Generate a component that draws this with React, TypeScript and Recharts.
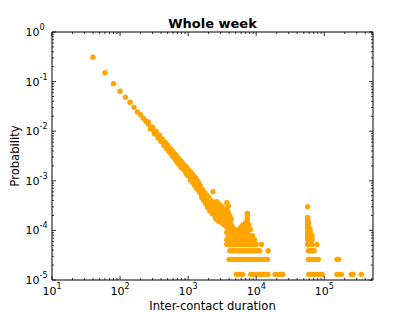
import React from 'react';
import { ScatterChart, Scatter, XAxis, YAxis } from 'recharts';

// ---- data (inter-contact duration in s, probability) ----
const headX = [40, 60, 80, 100, 120, 140, 160, 180, 200, 220];
const headY = [0.31, 0.151, 0.091, 0.064, 0.0482, 0.0383, 0.0303, 0.0245, 0.0215, 0.0182];

const bandX = [240, 260, 280, 300, 320, 340, 360, 380, 400, 420, 440, 460, 480, 500, 520, 540, 560, 580, 600,
  620, 640, 660, 680, 700, 720, 740, 760, 780, 800, 820, 840, 860, 880, 900, 920, 940, 960, 980, 1000];
const bandY = [0.0157, 0.014, 0.0121, 0.011, 0.0098, 0.009, 0.008, 0.0075, 0.0068, 0.0063, 0.0057, 0.0055, 0.005,
  0.0047, 0.0044, 0.0042, 0.0038, 0.0037, 0.0034, 0.0033, 0.0031, 0.0029, 0.0028, 0.0026, 0.0026, 0.0024, 0.0023,
  0.0022, 0.0022, 0.002, 0.002, 0.0019, 0.0018, 0.0018, 0.0017, 0.0016, 0.0016, 0.0015, 0.0015];

const bandExtraX = [520, 560, 600, 640, 680, 720, 760, 800, 840, 880, 920, 960, 1000];
const bandExtraY = [0.004, 0.0041, 0.0031, 0.0034, 0.0025, 0.0028, 0.0021, 0.0024, 0.0018, 0.002, 0.0015, 0.0018, 0.0013];

const bandUpX = [260, 300, 340, 380, 420, 460, 500, 540, 580, 620, 660, 700, 740, 780, 820, 860, 900, 940, 980];
const bandUpY = [0.0153, 0.0121, 0.0099, 0.0083, 0.0069, 0.006, 0.0052, 0.0046, 0.0041, 0.0036, 0.0033, 0.003,
  0.0027, 0.0025, 0.0023, 0.0021, 0.002, 0.0019, 0.0017];
const bandLowX = [280, 320, 360, 400, 440, 480, 540, 580, 620, 660, 700, 740, 780, 820, 860, 900, 940, 980];
const bandLowY = [0.011, 0.0089, 0.0073, 0.0062, 0.0052, 0.0045, 0.0037, 0.0033, 0.0029, 0.0026, 0.0023, 0.0021,
  0.0019, 0.0018, 0.0017, 0.0016, 0.0014, 0.0013];

const cloudX = [1040, 1080, 1120, 1160, 1200, 1240, 1280, 1320, 1360, 1400, 1440, 1480,
  1520, 1580, 1640, 1700, 1760, 1820, 1880, 1940, 2000, 2080, 2160, 2240, 2320, 2400,
  2480, 2560, 2640, 2720, 2800, 2880, 2960, 3040, 3120, 3200, 3300, 3400, 3500];
const cloudY = [
  [0.0014, 0.00124, 0.0016], [0.00132, 0.00116, 0.00104], [0.00127, 0.00109, 0.00145], [0.00118, 0.00104, 0.00093],
  [0.00113, 0.00096, 0.00128], [0.00105, 0.00092, 0.00082], [0.00101, 0.00086, 0.00115], [0.00094, 0.00081, 0.00072],
  [0.0009, 0.00076, 0.00102], [0.00084, 0.00073, 0.00065], [0.0008, 0.00068, 0.00091], [0.00075, 0.00064, 0.00058],
  [0.00068, 0.00058, 0.00078], [0.00063, 0.00052, 0.00046], [0.00058, 0.00048, 0.00066], [0.00054, 0.00044, 0.00039],
  [0.0005, 0.00041, 0.00057], [0.00047, 0.00038, 0.00034], [0.00045, 0.00035, 0.00051], [0.00042, 0.00033, 0.00029],
  [0.0004, 0.00031, 0.00046], [0.00037, 0.00029, 0.00025], [0.00035, 0.00027, 0.0004], [0.00033, 0.00025, 0.00022],
  [0.0006, 0.00031, 0.00024], [0.00031, 0.00023, 0.00037],
  [0.00036, 0.00026, 0.00019], [0.00033, 0.00024, 0.00017], [0.00038, 0.00028, 0.00021],
  [0.00031, 0.00022, 0.00016], [0.00034, 0.00025, 0.00018], [0.00029, 0.00021, 0.00015],
  [0.00032, 0.00023, 0.00017], [0.00027, 0.0002, 0.00015], [0.0003, 0.00022, 0.00016],
  [0.00026, 0.00019, 0.00014], [0.00028, 0.00021, 0.00015], [0.00025, 0.00018, 0.00013],
  [0.00026, 0.00019, 0.00013],
];

const tailX = [3700, 3900, 4100, 4300, 4500, 4800, 5200, 5600, 6000, 6400, 6800, 7000, 7400, 7800, 8200, 8800, 9400, 10000, 11900];
const tailY = [
  [3.6e-4, 2.6e-4, 2.1e-4, 1.56e-4, 1.17e-4, 9.1e-5, 6.5e-5, 5.2e-5],
  [3.1e-4, 2.3e-4, 1.82e-4, 1.3e-4, 1.04e-4, 7.8e-5, 5.2e-5],
  [1.95e-4, 1.56e-4, 1.17e-4, 9.1e-5, 6.5e-5, 5.2e-5],
  [1.69e-4, 1.3e-4, 1.04e-4, 7.8e-5, 6.5e-5, 5.2e-5],
  [1.17e-4, 9.1e-5, 7.8e-5, 5.2e-5],
  [1.04e-4, 7.8e-5, 6.5e-5, 5.2e-5],
  [9.1e-5, 7.8e-5, 6.5e-5, 5.2e-5],
  [1.04e-4, 7.8e-5, 6.5e-5, 5.2e-5],
  [1.17e-4, 9.1e-5, 6.5e-5, 5.2e-5],
  [1.3e-4, 1.04e-4, 7.8e-5, 6.5e-5, 5.2e-5],
  [1.17e-4, 9.1e-5, 7.8e-5, 5.2e-5],
  [1.43e-4, 1.04e-4, 6.5e-5],
  [2.2e-4, 1.95e-4, 1.69e-4, 1.43e-4, 1.17e-4, 9.1e-5, 6.5e-5, 5.2e-5],
  [1.3e-4, 1.04e-4, 7.8e-5, 5.2e-5],
  [1.04e-4, 7.8e-5, 6.5e-5, 5.2e-5],
  [7.8e-5, 6.5e-5, 5.2e-5],
  [6.5e-5, 5.2e-5],
  [5.2e-5],
  [5.2e-5],
];

const dayX = [57000, 59000, 62000, 66000, 78000];
const dayY = [
  [3.0e-4, 1.82e-4, 1.69e-4, 1.56e-4, 1.43e-4, 1.3e-4, 1.17e-4, 1.04e-4, 9.1e-5, 7.8e-5, 6.5e-5, 5.2e-5],
  [1.43e-4, 1.17e-4, 1.04e-4, 9.1e-5, 7.8e-5, 6.5e-5, 5.2e-5],
  [1.04e-4, 9.1e-5, 7.8e-5, 6.5e-5, 5.2e-5],
  [7.8e-5, 6.5e-5, 5.2e-5],
  [5.2e-5],
];

const rowLevels = [1.3e-5, 2.6e-5, 3.9e-5];
const row1X = [5100, 5500, 5900, 6300, 8300, 9000, 9800, 10600, 11500, 12500, 13600, 14900, 18900, 20500, 22600, 24600,
  59000, 63500, 68500, 74000, 80000, 86500, 93000, 153000, 165000, 178000, 249000, 265000, 350000];
const row2X = [4000, 4350, 4750, 5200, 5650, 6150, 6700, 7300, 7950, 8650, 9400, 10200, 11100, 12100, 13200, 14600,
  58500, 62500, 67000, 72000, 77000, 81500, 154000, 162000];
const row3X = [4100, 4450, 4850, 5300, 5750, 6250, 6800, 7400, 8050, 8750, 9500, 10300, 11200, 15000,
  58500, 62500, 67000, 71000];

const xDomain: [number, number] = [10, 520000];
const yDomain: [number, number] = [1e-5, 1];
const xDecades = [10, 100, 1000, 10000, 100000];
const yDecades = [1e-5, 1e-4, 1e-3, 1e-2, 1e-1];
const mults = [1, 2, 3, 4, 5, 6, 7, 8, 9];

// ---- build table ----
type P = { x: number; y: number };
const data: P[] = [];
headX.forEach((x, i) => data.push({ x, y: headY[i] }));
bandX.forEach((x, i) => data.push({ x, y: bandY[i] }));
bandExtraX.forEach((x, i) => data.push({ x, y: bandExtraY[i] }));
bandUpX.forEach((x, i) => data.push({ x, y: bandUpY[i] }));
bandLowX.forEach((x, i) => data.push({ x, y: bandLowY[i] }));
cloudX.forEach((x, i) => cloudY[i].forEach((y) => data.push({ x, y })));
tailX.forEach((x, i) => tailY[i].forEach((y) => data.push({ x, y })));
dayX.forEach((x, i) => dayY[i].forEach((y) => data.push({ x, y })));
[row1X, row2X, row3X].forEach((xs, k) => xs.forEach((x) => data.push({ x, y: rowLevels[k] })));

const xTicks = xDecades.flatMap((d) => mults.map((m) => m * d)).filter((v) => v <= xDomain[1]);
const yTicks = yDecades.flatMap((d) => mults.map((m) => m * d)).concat([1]);

const FONT = 'DejaVu Sans, Verdana, sans-serif';
const isMajor = (v: number) => {
  const l = Math.log10(v);
  return Math.abs(l - Math.round(l)) < 1e-6;
};
const expOf = (v: number) => Math.round(Math.log10(v));

const BottomTick = (p: any) => {
  const { x, y, payload } = p;
  const major = isMajor(payload.value);
  return (
    <g>
      <line x1={x} y1={y} x2={x} y2={y - (major ? 4 : 2)} stroke="#000" strokeWidth={0.8} />
      {major && (
        <text x={x} y={y + 15} textAnchor="middle" fontFamily={FONT} fontSize={11} fill="#000">
          <tspan>10</tspan>
          <tspan dy={-6} fontSize={8}>{expOf(payload.value)}</tspan>
        </text>
      )}
    </g>
  );
};
const TopTick = (p: any) => {
  const { x, y, payload } = p;
  const major = isMajor(payload.value);
  return <line x1={x} y1={y} x2={x} y2={y + (major ? 4 : 2)} stroke="#000" strokeWidth={0.8} />;
};
const LeftTick = (p: any) => {
  const { x, y, payload } = p;
  const major = isMajor(payload.value);
  return (
    <g>
      <line x1={x} y1={y} x2={x + (major ? 4 : 2)} y2={y} stroke="#000" strokeWidth={0.8} />
      {major && (
        <text x={x - 26.5} y={y + 4} textAnchor="start" fontFamily={FONT} fontSize={11} fill="#000">
          <tspan>10</tspan>
          <tspan dy={-6} fontSize={8}>{expOf(payload.value)}</tspan>
        </text>
      )}
    </g>
  );
};
const RightTick = (p: any) => {
  const { x, y, payload } = p;
  const major = isMajor(payload.value);
  return <line x1={x} y1={y} x2={x - (major ? 4 : 2)} y2={y} stroke="#000" strokeWidth={0.8} />;
};

const Dot = (p: any) => <circle cx={p.cx} cy={p.cy} r={2.7} fill="#FFA500" />;

export default function App() {
  return (
    <div style={{ position: 'relative', width: 407, height: 304 }}>
      <ScatterChart width={407} height={304} margin={{ top: 23, right: 41, bottom: 0, left: 0 }}
        style={{ fontFamily: FONT }}>
        <XAxis xAxisId={0} dataKey="x" type="number" scale="log" domain={xDomain} allowDataOverflow
          ticks={xTicks} interval={0} tick={<BottomTick />} tickLine={false} tickSize={0} tickMargin={0}
          height={32} axisLine={{ stroke: '#000', strokeWidth: 1 }} />
        <XAxis xAxisId="top" orientation="top" dataKey="x" type="number" scale="log" domain={xDomain}
          allowDataOverflow ticks={xTicks} interval={0} tick={<TopTick />} tickLine={false} tickSize={0}
          tickMargin={0} height={1} axisLine={{ stroke: '#000', strokeWidth: 1 }} />
        <YAxis yAxisId={0} dataKey="y" type="number" scale="log" domain={yDomain} allowDataOverflow
          ticks={yTicks} interval={0} tick={<LeftTick />} tickLine={false} tickSize={0} tickMargin={0}
          width={44} axisLine={{ stroke: '#000', strokeWidth: 1 }} />
        <YAxis yAxisId="right" orientation="right" dataKey="y" type="number" scale="log" domain={yDomain}
          allowDataOverflow ticks={yTicks} interval={0} tick={<RightTick />} tickLine={false} tickSize={0}
          tickMargin={0} width={1} axisLine={{ stroke: '#000', strokeWidth: 1 }} />
        <Scatter data={data} xAxisId={0} yAxisId={0} fill="#FFA500" shape={<Dot />} isAnimationActive={false} />
      </ScatterChart>
      <svg width={407} height={304} style={{ position: 'absolute', left: 0, top: 0, pointerEvents: 'none' }}>
        <text x={204.5} y={19.5} textAnchor="middle" fontFamily={FONT} fontWeight="bold" fontSize={13} fill="#000">
          Whole week
        </text>
        <text x={204.5} y={301.5} textAnchor="middle" fontFamily={FONT} fontSize={11.6} fill="#000">
          Inter-contact duration
        </text>
        <text transform="translate(10.5,148) rotate(-90)" textAnchor="middle" fontFamily={FONT} fontSize={11.6} fill="#000">
          Probability
        </text>
      </svg>
    </div>
  );
}
